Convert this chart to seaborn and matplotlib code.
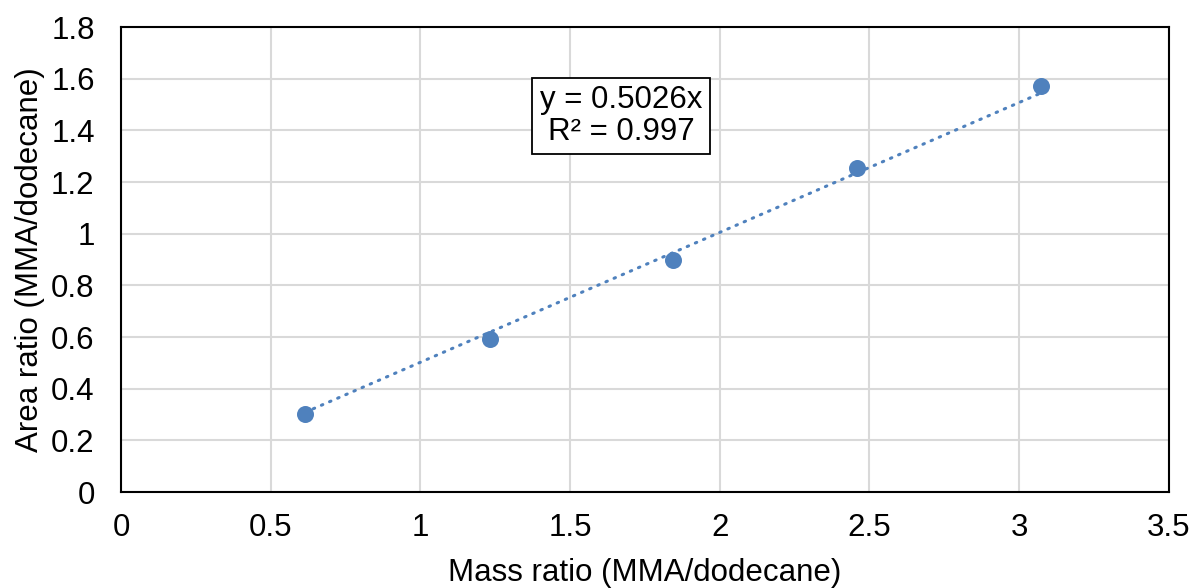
import matplotlib
matplotlib.use("Agg")
import matplotlib.pyplot as plt
import seaborn as sns
import numpy as np
import pandas as pd

mass_ratio = [0.615, 1.231, 1.843, 2.458, 3.074]
area_ratio = [0.302, 0.592, 0.898, 1.254, 1.572]
slope = 0.5026
r2 = 0.997
x_ticks = [0, 0.5, 1, 1.5, 2, 2.5, 3, 3.5]
x_tick_labels = ["0", "0.5", "1", "1.5", "2", "2.5", "3", "3.5"]
y_ticks = [0, 0.2, 0.4, 0.6, 0.8, 1.0, 1.2, 1.4, 1.6, 1.8]
y_tick_labels = ["0", "0.2", "0.4", "0.6", "0.8", "1", "1.2", "1.4", "1.6", "1.8"]

sns.set_style("white")
plt.rcParams['font.family'] = ['Liberation Sans', 'DejaVu Sans']
plt.rcParams['text.color'] = 'black'
plt.rcParams['axes.labelcolor'] = 'black'

df = pd.DataFrame({"x": mass_ratio, "y": area_ratio})
trend = pd.DataFrame({"x": mass_ratio, "y": [slope * v for v in mass_ratio]})

fig = plt.figure(figsize=(11.95, 5.88), dpi=100)
ax = fig.add_axes([0.1013, 0.163, 0.8767, 0.791])

color = "#4F81BD"
sns.lineplot(data=trend, x="x", y="y", ax=ax, color=color, linewidth=2.2,
             linestyle=(0, (0.5, 2.4)), zorder=3)
ax.lines[-1].set_dash_capstyle("round")
sns.scatterplot(data=df, x="x", y="y", ax=ax, color=color, s=150,
                edgecolor=color, linewidth=0, zorder=4)

ax.set_xlim(0, 3.5)
ax.set_ylim(0, 1.8)
ax.set_xticks(x_ticks)
ax.set_xticklabels(x_tick_labels)
ax.set_yticks(y_ticks)
ax.set_yticklabels(y_tick_labels)
ax.grid(True, color="#d9d9d9", linewidth=1.5)
ax.set_axisbelow(True)
for s in ax.spines.values():
    s.set_color("black")
    s.set_linewidth(1.5)
ax.tick_params(axis="both", labelsize=22.5, length=0, colors="black")
ax.tick_params(axis="y", pad=19)
ax.tick_params(axis="x", pad=15)
ax.set_xlabel("Mass ratio (MMA/dodecane)", fontsize=22.5, labelpad=11, color="black")
ax.set_ylabel("Area ratio (MMA/dodecane)", fontsize=22.5, labelpad=4, color="black")

ax.text(1.67, 1.456, f"y = {slope}x\nR² = {r2}", fontsize=22.5, ha="center",
        va="center", linespacing=1.05, color="black",
        bbox=dict(boxstyle="square,pad=0.25", facecolor="white",
                  edgecolor="black", linewidth=1.3), zorder=5)

fig.savefig("out.png", dpi=100)
